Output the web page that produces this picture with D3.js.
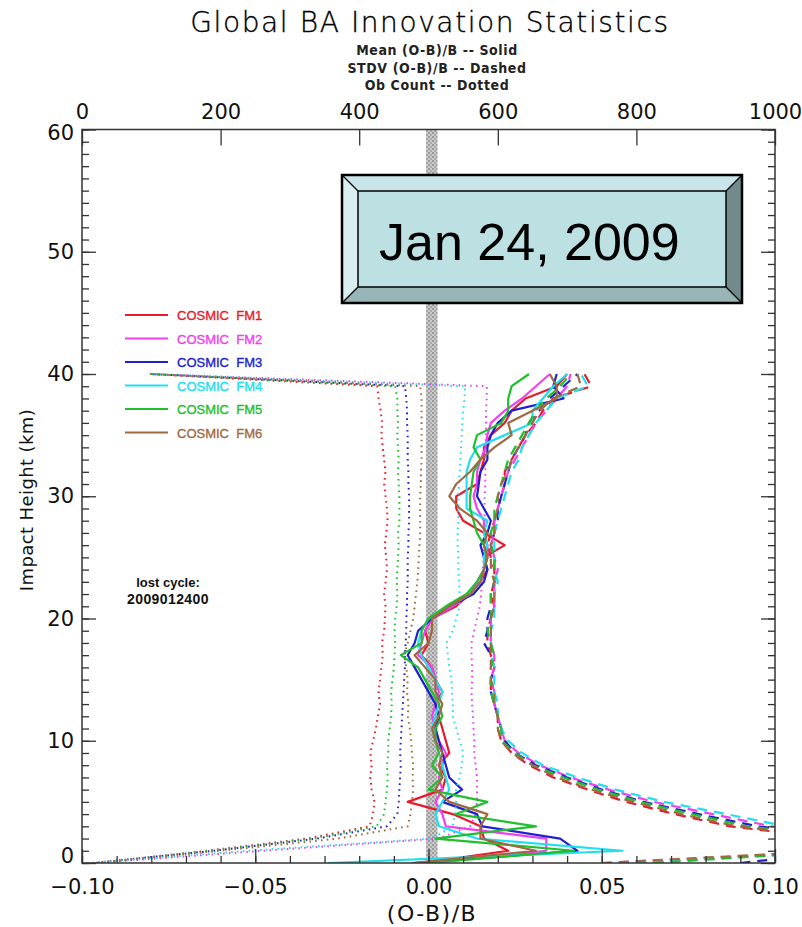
<!DOCTYPE html>
<html>
<head>
<meta charset="utf-8">
<script src="https://cdnjs.cloudflare.com/ajax/libs/d3/7.8.5/d3.min.js"></script>
<style>
  html, body { margin: 0; padding: 0; background: #fff; }
  svg { display: block; }
</style>
</head>
<body>
<svg id="chart" width="802" height="927"></svg>
<script>
// impact height levels (km)
const heights = [0, 1, 2, 3, 4, 5, 6, 7, 8, 9, 10, 11, 12, 13, 14, 15, 16, 17, 18, 19, 20,
    21, 22, 23, 24, 25, 26, 27, 28, 29, 30, 31, 32, 33, 34, 35, 36, 37, 38, 39, 40];

const satNames = ['COSMIC FM1', 'COSMIC FM2', 'COSMIC FM3', 'COSMIC FM4', 'COSMIC FM5', 'COSMIC FM6'];
const satColors = ['#e8192c', '#f040f0', '#2020d0', '#20e0f0', '#1ec02e', '#a06a40'];

// mean (O-B)/B -- solid
const meanFM1 = [-0.002, 0.023, 0.016, 0.015, 0.007, -0.006, 0.004, 0.005, 0.003, 0.006, 0.005, 0.004, 0.003, 0.002, 0.004, 0.002, 0.001, -0.002, 0.000, -0.001, 0.001,
    0.008, 0.012, 0.015, 0.017, 0.016, 0.022, 0.016, 0.010, 0.008, 0.008, 0.014, 0.015, 0.016, 0.016, 0.018, 0.022, 0.024, 0.028, 0.037, 0.040];
const meanFM2 = [0.000, 0.034, 0.034, 0.005, 0.004, 0.002, 0.004, 0.003, 0.004, 0.005, 0.003, 0.002, 0.001, 0.002, 0.003, 0.002, 0.001, -0.003, -0.002, -0.001, 0.001,
    0.007, 0.012, 0.014, 0.016, 0.017, 0.017, 0.016, 0.016, 0.014, 0.013, 0.014, 0.014, 0.015, 0.0165, 0.017, 0.018, 0.022, 0.027, 0.031, 0.035];
const meanFM3 = [-0.004, 0.043, 0.038, 0.0155, 0.014, 0.004, 0.0097, 0.006, 0.005, 0.004, 0.003, 0.002, 0.003, 0.002, 0.000, -0.002, -0.004, -0.006, -0.004, -0.003, 0.001,
    0.006, 0.013, 0.016, 0.017, 0.016, 0.015, 0.017, 0.018, 0.016, 0.014, 0.0145, 0.015, 0.017, 0.017, 0.018, 0.020, 0.024, 0.039, 0.036, 0.037];
const meanFM4 = [-0.029, 0.056, 0.014, 0.003, 0.002, 0.004, 0.006, 0.005, 0.004, 0.003, 0.002, 0.001, 0.002, 0.003, 0.004, 0.002, 0.000, -0.002, -0.003, -0.002, 0.000,
    0.006, 0.012, 0.015, 0.016, 0.016, 0.017, 0.016, 0.017, 0.011, 0.011, 0.011, 0.011, 0.012, 0.014, 0.022, 0.030, 0.030, 0.033, 0.036, 0.040];
const meanFM5 = [0.000, 0.042, 0.002, 0.031, 0.008, 0.017, 0.000, 0.004, 0.001, 0.003, 0.002, 0.002, 0.004, 0.003, 0.001, -0.001, -0.003, -0.008, -0.002, -0.002, 0.000,
    0.005, 0.011, 0.014, 0.016, 0.017, 0.016, 0.014, 0.013, 0.012, 0.012, 0.0125, 0.013, 0.015, 0.013, 0.014, 0.021, 0.023, 0.023, 0.024, 0.029];
const meanFM6 = [-0.005, 0.031, 0.015, 0.015, 0.017, 0.006, 0.002, 0.004, 0.003, 0.004, 0.002, 0.001, 0.003, 0.004, 0.002, 0.002, -0.001, -0.004, 0.000, 0.001, 0.001,
    0.006, 0.012, 0.015, 0.016, 0.017, 0.016, 0.017, 0.014, 0.009, 0.006, 0.008, 0.012, 0.015, 0.019, 0.024, 0.023, 0.030, 0.037, 0.037, 0.035];

// stdv (O-B)/B -- dashed
const stdvFM1 = [0.060, 0.116, 0.117, 0.087, 0.071, 0.057, 0.046, 0.036, 0.029, 0.024, 0.021, 0.020, 0.020, 0.019, 0.018, 0.018, 0.019, 0.018, 0.017, 0.017, 0.018,
    0.019, 0.018, 0.019, 0.019, 0.018, 0.017, 0.018, 0.019, 0.020, 0.021, 0.022, 0.022, 0.024, 0.026, 0.028, 0.031, 0.033, 0.036, 0.047, 0.045];
const stdvFM2 = [0.050, 0.125, 0.129, 0.099, 0.082, 0.065, 0.052, 0.041, 0.032, 0.026, 0.022, 0.021, 0.020, 0.019, 0.019, 0.018, 0.019, 0.019, 0.018, 0.018, 0.018,
    0.019, 0.019, 0.019, 0.020, 0.019, 0.018, 0.019, 0.019, 0.020, 0.021, 0.022, 0.023, 0.025, 0.027, 0.029, 0.031, 0.034, 0.037, 0.040, 0.041];
const stdvFM3 = [0.090, 0.122, 0.125, 0.095, 0.078, 0.062, 0.050, 0.040, 0.031, 0.025, 0.022, 0.021, 0.020, 0.019, 0.018, 0.018, 0.019, 0.018, 0.016, 0.017, 0.017,
    0.018, 0.018, 0.019, 0.019, 0.019, 0.018, 0.019, 0.020, 0.020, 0.021, 0.022, 0.023, 0.024, 0.026, 0.028, 0.029, 0.032, 0.035, 0.039, 0.043];
const stdvFM4 = [0.055, 0.128, 0.133, 0.103, 0.086, 0.068, 0.054, 0.043, 0.033, 0.027, 0.023, 0.021, 0.020, 0.020, 0.019, 0.019, 0.019, 0.018, 0.018, 0.018, 0.019,
    0.019, 0.019, 0.020, 0.019, 0.019, 0.019, 0.019, 0.020, 0.021, 0.022, 0.023, 0.024, 0.026, 0.027, 0.029, 0.031, 0.034, 0.037, 0.046, 0.044];
const stdvFM5 = [0.065, 0.120, 0.122, 0.092, 0.076, 0.061, 0.049, 0.039, 0.030, 0.025, 0.021, 0.021, 0.020, 0.019, 0.018, 0.018, 0.018, 0.019, 0.018, 0.017, 0.018,
    0.018, 0.018, 0.019, 0.019, 0.019, 0.018, 0.018, 0.019, 0.019, 0.020, 0.021, 0.022, 0.023, 0.025, 0.027, 0.029, 0.031, 0.034, 0.038, 0.041];
const stdvFM6 = [0.050, 0.118, 0.119, 0.089, 0.073, 0.059, 0.047, 0.037, 0.030, 0.024, 0.021, 0.020, 0.020, 0.019, 0.019, 0.018, 0.018, 0.018, 0.018, 0.018, 0.018,
    0.019, 0.019, 0.019, 0.018, 0.018, 0.018, 0.019, 0.019, 0.020, 0.020, 0.021, 0.023, 0.024, 0.026, 0.028, 0.030, 0.032, 0.036, 0.044, 0.043];

// ob count -- dotted (top axis)
const countFM1 = [20, 180, 325, 415, 420, 422, 418, 416, 418, 416, 420, 424, 427, 430, 428, 430, 432, 434, 433, 436, 437,
    438, 436, 438, 440, 439, 437, 439, 441, 440, 438, 436, 438, 436, 434, 432, 433, 431, 428, 426, 98];
const countFM2 = [20, 260, 515, 560, 568, 570, 570, 570, 568, 566, 566, 565, 564, 563, 562, 563, 563, 562, 562, 566, 570,
    574, 576, 577, 578, 580, 580, 580, 581, 581, 581, 582, 582, 582, 582, 583, 583, 583, 584, 584, 98];
const countFM3 = [15, 190, 340, 440, 455, 457, 458, 459, 460, 459, 460, 461, 462, 463, 464, 465, 466, 466, 467, 468, 468,
    469, 469, 470, 470, 470, 471, 471, 472, 472, 472, 471, 471, 470, 470, 470, 469, 469, 468, 466, 98];
const countFM4 = [15, 240, 505, 535, 538, 540, 540, 545, 548, 550, 545, 540, 535, 535, 534, 533, 530, 528, 526, 535, 540,
    545, 545, 544, 543, 543, 542, 542, 543, 543, 543, 544, 545, 546, 547, 548, 549, 550, 552, 553, 98];
const countFM5 = [20, 185, 335, 425, 436, 438, 440, 441, 440, 442, 442, 444, 446, 447, 446, 448, 450, 451, 452, 451, 452,
    454, 455, 454, 455, 456, 457, 456, 458, 458, 458, 457, 456, 457, 456, 455, 456, 455, 455, 452, 98];
const countFM6 = [20, 200, 370, 470, 474, 476, 478, 477, 478, 476, 475, 473, 470, 471, 469, 470, 468, 465, 470, 474, 478,
    480, 482, 484, 485, 486, 487, 488, 488, 488, 488, 489, 489, 490, 490, 490, 490, 490, 490, 488, 98];

const meanAll = [meanFM1, meanFM2, meanFM3, meanFM4, meanFM5, meanFM6];
const stdvAll = [stdvFM1, stdvFM2, stdvFM3, stdvFM4, stdvFM5, stdvFM6];
const countAll = [countFM1, countFM2, countFM3, countFM4, countFM5, countFM6];

const xTicks = [-0.10, -0.05, 0.00, 0.05, 0.10];
const xTopTicks = [0, 200, 400, 600, 800, 1000];
const yTicks = [0, 10, 20, 30, 40, 50, 60];

const svg = d3.select('#chart');
const pl = 82, pr = 775, pt = 129.5, pb = 863;

let x = d3.scaleLinear().domain([-0.1, 0.1]).range([pl, pr]);
let xTop = d3.scaleLinear().domain([0, 1000]).range([pl, pr]);
let y = d3.scaleLinear().domain([0, 60]).range([pb, pt]);

const tickFont = '"DejaVu Sans", sans-serif';

// titles
svg.append('text')
    .attr('x', 430).attr('y', 32)
    .attr('text-anchor', 'middle')
    .attr('font-family', tickFont)
    .attr('font-weight', '200')
    .attr('font-size', '28px')
    .attr('letter-spacing', '1.6px')
    .attr('fill', '#000')
    .attr('stroke', '#000')
    .attr('stroke-width', 0.35)
    .text('Global BA Innovation Statistics');

let subs = ['Mean (O-B)/B -- Solid', 'STDV (O-B)/B -- Dashed', 'Ob Count -- Dotted'];
subs.forEach(function (s, i) {
    svg.append('text')
        .attr('x', 437).attr('y', 55 + i * 17.5)
        .attr('text-anchor', 'middle')
        .attr('font-family', '"DejaVu Sans Condensed", "DejaVu Sans", sans-serif')
        .attr('font-weight', 'bold')
        .attr('font-size', '14px')
        .attr('letter-spacing', '0.6px')
        .attr('fill', '#222')
        .style('white-space', 'pre')
        .text(s);
});

// hatched zero bar
let defs = svg.append('defs');
let pat = defs.append('pattern')
    .attr('id', 'hatch')
    .attr('patternUnits', 'userSpaceOnUse')
    .attr('width', 4).attr('height', 4);
pat.append('rect').attr('width', 4).attr('height', 4).attr('fill', '#cbcbcb');
pat.append('rect').attr('width', 2).attr('height', 2).attr('fill', '#9a9a9a');
pat.append('rect').attr('x', 2).attr('y', 2).attr('width', 2).attr('height', 2).attr('fill', '#a8a8a8');

defs.append('clipPath').attr('id', 'plotclip')
    .append('rect')
    .attr('x', pl).attr('y', pt)
    .attr('width', pr - pl).attr('height', pb - pt);

svg.append('rect')
    .attr('x', x(0) - 2.5).attr('y', pt)
    .attr('width', 11.5).attr('height', pb - pt)
    .attr('fill', 'url(#hatch)');

// data lines
let g = svg.append('g').attr('clip-path', 'url(#plotclip)');

let lineX = d3.line()
    .x(function (d) { return x(d[0]); })
    .y(function (d) { return y(d[1]); });

let lineTop = d3.line()
    .x(function (d) { return xTop(d[0]); })
    .y(function (d) { return y(d[1]); });

for (let i = 0; i < 6; i++) {
    let c = satColors[i];

    g.append('path')
        .datum(countAll[i].map((v, k) => [v, heights[k]]))
        .attr('d', lineTop)
        .attr('fill', 'none')
        .attr('stroke', c)
        .attr('stroke-width', 2)
        .attr('stroke-dasharray', '1.6,4.2');

    g.append('path')
        .datum(stdvAll[i].map((v, k) => [v, heights[k]]))
        .attr('d', lineX)
        .attr('fill', 'none')
        .attr('stroke', c)
        .attr('stroke-width', 2.2)
        .attr('stroke-dasharray', '10,7');

    g.append('path')
        .datum(meanAll[i].map((v, k) => [v, heights[k]]))
        .attr('d', lineX)
        .attr('fill', 'none')
        .attr('stroke', c)
        .attr('stroke-width', 2.2)
        .attr('stroke-linejoin', 'round');
}

// frame
svg.append('rect')
    .attr('x', pl).attr('y', pt)
    .attr('width', pr - pl).attr('height', pb - pt)
    .attr('fill', 'none')
    .attr('stroke', '#333')
    .attr('stroke-width', 1.5);

function styleAxis(sel) {
    sel.select('.domain').remove();
    sel.selectAll('line').attr('stroke', '#333').attr('stroke-width', 1.3);
    sel.selectAll('text')
        .attr('font-family', tickFont)
        .attr('font-size', '21px')
        .attr('fill', '#111');
}

// y axes: major every 10 km, minor every 1 km
let yMinor = heights.concat([41, 42, 43, 44, 45, 46, 47, 48, 49, 50, 51, 52, 53, 54, 55, 56, 57, 58, 59, 60]);

svg.append('g').attr('transform', 'translate(' + pl + ',0)')
    .call(d3.axisLeft(y).tickValues(yMinor).tickSize(-7).tickFormat(''))
    .call(styleAxis);
let yAx = svg.append('g').attr('transform', 'translate(' + pl + ',0)')
    .call(d3.axisLeft(y).tickValues(yTicks).tickSize(-14).tickPadding(8).tickFormat(d3.format('d')))
    .call(styleAxis);
// end labels sit a little inside, as in the original plot
yAx.selectAll('.tick text')
    .attr('transform', d => d === 0 ? 'translate(0,-7)' : (d === 60 ? 'translate(0,3)' : null));

svg.append('g').attr('transform', 'translate(' + pr + ',0)')
    .call(d3.axisRight(y).tickValues(yMinor).tickSize(-7).tickFormat(''))
    .call(styleAxis);
svg.append('g').attr('transform', 'translate(' + pr + ',0)')
    .call(d3.axisRight(y).tickValues(yTicks).tickSize(-14).tickFormat(''))
    .call(styleAxis);

// bottom axis
let xMinor = [-0.10, -0.09, -0.08, -0.07, -0.06, -0.05, -0.04, -0.03, -0.02, -0.01, 0.00,
    0.01, 0.02, 0.03, 0.04, 0.05, 0.06, 0.07, 0.08, 0.09, 0.10];
svg.append('g').attr('transform', 'translate(0,' + pb + ')')
    .call(d3.axisBottom(x).tickValues(xMinor).tickSize(-7).tickFormat(''))
    .call(styleAxis);
svg.append('g').attr('transform', 'translate(0,' + pb + ')')
    .call(d3.axisBottom(x).tickValues(xTicks).tickSize(-14).tickPadding(16).tickFormat(d3.format('.2f')))
    .call(styleAxis);

// top axis (ob count)
svg.append('g').attr('transform', 'translate(0,' + pt + ')')
    .call(d3.axisTop(xTop).tickValues(xTopTicks).tickSize(-16).tickPadding(11).tickFormat(d3.format('d')))
    .call(styleAxis);

// axis titles
svg.append('text')
    .attr('transform', 'translate(33,500) rotate(-90)')
    .attr('text-anchor', 'middle')
    .attr('font-family', tickFont)
    .attr('font-size', '18px')
    .attr('letter-spacing', '0.4px')
    .attr('fill', '#111')
    .text('Impact Height (km)');

svg.append('text')
    .attr('x', 432).attr('y', 921)
    .attr('text-anchor', 'middle')
    .attr('font-family', tickFont)
    .attr('font-size', '22px')
    .attr('letter-spacing', '1.5px')
    .attr('fill', '#111')
    .text('(O-B)/B');

// legend
satNames.forEach(function (n, i) {
    let ly = 315 + i * 23.5;
    svg.append('line')
        .attr('x1', 125).attr('x2', 168)
        .attr('y1', ly).attr('y2', ly)
        .attr('stroke', satColors[i])
        .attr('stroke-width', 2);
    svg.append('text')
        .attr('x', 177).attr('y', ly + 5)
        .attr('font-family', '"Liberation Sans", Arial, sans-serif')
        .attr('font-size', '13px')
        .attr('fill', satColors[i])
        .attr('stroke', satColors[i])
        .attr('stroke-width', 0.35)
        .style('white-space', 'pre')
        .text(n.replace(' ', '  '));
});

// last cycle note
svg.append('text')
    .attr('x', 168).attr('y', 587)
    .attr('text-anchor', 'middle')
    .attr('font-family', '"Liberation Sans", Arial, sans-serif')
    .attr('font-weight', 'bold')
    .attr('font-size', '13px')
    .attr('fill', '#111')
    .text('lost cycle:');
svg.append('text')
    .attr('x', 168).attr('y', 604)
    .attr('text-anchor', 'middle')
    .attr('font-family', '"Liberation Sans", Arial, sans-serif')
    .attr('font-weight', 'bold')
    .attr('font-size', '14px')
    .attr('letter-spacing', '0.4px')
    .attr('fill', '#111')
    .text('2009012400');

// date box with bevel
let bx0 = 342, bx1 = 742, by0 = 175, by1 = 303;
let ix0 = 358, ix1 = 726, iy0 = 191, iy1 = 287;
let box = svg.append('g');
box.append('polygon')
    .attr('points', [[bx0, by0], [bx1, by0], [ix1, iy0], [ix0, iy0]].join(' '))
    .attr('fill', '#c9e5e9');
box.append('polygon')
    .attr('points', [[bx0, by0], [ix0, iy0], [ix0, iy1], [bx0, by1]].join(' '))
    .attr('fill', '#d9eef0');
box.append('polygon')
    .attr('points', [[bx0, by1], [ix0, iy1], [ix1, iy1], [bx1, by1]].join(' '))
    .attr('fill', '#98b6b7');
box.append('polygon')
    .attr('points', [[bx1, by0], [bx1, by1], [ix1, iy1], [ix1, iy0]].join(' '))
    .attr('fill', '#728a8b');
box.append('rect')
    .attr('x', ix0).attr('y', iy0)
    .attr('width', ix1 - ix0).attr('height', iy1 - iy0)
    .attr('fill', '#bde0e3')
    .attr('stroke', '#000').attr('stroke-width', 1.5);
[[bx0, by0, ix0, iy0], [bx1, by0, ix1, iy0], [bx0, by1, ix0, iy1], [bx1, by1, ix1, iy1]].forEach(function (s) {
    box.append('line')
        .attr('x1', s[0]).attr('y1', s[1]).attr('x2', s[2]).attr('y2', s[3])
        .attr('stroke', '#000').attr('stroke-width', 1.3);
});
box.append('rect')
    .attr('x', bx0).attr('y', by0)
    .attr('width', bx1 - bx0).attr('height', by1 - by0)
    .attr('fill', 'none')
    .attr('stroke', '#000').attr('stroke-width', 2.5);
box.append('text')
    .attr('x', 379).attr('y', 260)
    .attr('font-family', '"Liberation Sans", Arial, sans-serif')
    .attr('font-size', '52px')
    .attr('fill', '#000')
    .text('Jan 24, 2009');
</script>
</body>
</html>
